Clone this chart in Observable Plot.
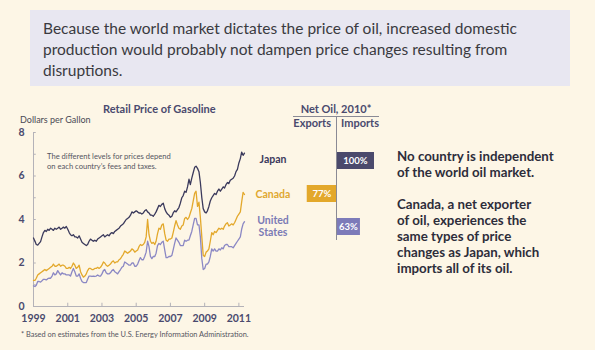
<!DOCTYPE html>
<html>
<head>
<meta charset="utf-8">
<script src="https://cdn.jsdelivr.net/npm/d3@7"></script>
<script src="https://cdn.jsdelivr.net/npm/@observablehq/plot@0.6"></script>
<style>
  html, body { margin: 0; padding: 0; background: #fdf6e6; }
  #page { position: relative; width: 595px; height: 350px; background: #fdf6e6; font-family: Lato, "Open Sans", sans-serif; overflow: hidden; }
  .abs { position: absolute; white-space: nowrap; }
  #box { left: 30px; top: 10px; width: 527px; height: 68px; padding: 8px 0 0 13px; background: #e8e7f1; color: #3a3a40; font-size: 15.5px; line-height: 21px; white-space: normal; }
  .ctitle { font-weight: bold; font-size: 11px; color: #4a4a6e; }
  .small { font-size: 9px; color: #4a4a55; }
  .note { font-size: 7.6px; color: #55555f; line-height: 9.5px; }
  .clabel { font-weight: bold; font-size: 10.5px; text-align: center; line-height: 12px; }
  #right { left: 397px; top: 148px; font-weight: bold; font-size: 13.3px; line-height: 16px; color: #2d2d3a; }
  #foot { left: 21px; top: 330px; font-size: 7.4px; color: #55555f; }
</style>
</head>
<body>
<div id="page">
  <div id="box" class="abs">Because the world market dictates the price of oil, increased domestic production would probably not dampen price changes resulting from disruptions.</div>

  <div class="abs ctitle" style="left:103px; top:102px;">Retail Price of Gasoline</div>
  <div class="abs small" style="left:20px; top:114px;">Dollars per Gallon</div>
  <div class="abs note" style="left:47px; top:152px;">The different levels for prices depend<br>on each country’s fees and taxes.</div>

  <div id="chart" class="abs" style="left:0px; top:120px;"></div>

  <div class="abs clabel" style="left:253px; top:153px; width:40px; color:#3b3a5c;">Japan</div>
  <div class="abs clabel" style="left:248px; top:188px; width:50px; color:#e0a830;">Canada</div>
  <div class="abs clabel" style="left:248px; top:214px; width:50px; color:#7b7bb5;">United<br>States</div>

  <div class="abs ctitle" style="left:293px; top:102px; width:86px; text-align:center; border-bottom:1px solid #8a8a95; padding-bottom:1px;">Net Oil, 2010*</div>
  <div class="abs ctitle" style="left:280px; top:116px; width:51px; text-align:right;">Exports</div>
  <div class="abs ctitle" style="left:341px; top:116px;">Imports</div>
  <div id="bars" class="abs" style="left:290px; top:100px;"></div>

  <div id="right" class="abs">No country is independent<br>of the world oil market.<br><br>Canada, a net exporter<br>of oil, experiences the<br>same types of price<br>changes as Japan, which<br>imports all of its oil.</div>

  <div id="foot" class="abs">* Based on estimates from the U.S. Energy Information Administration.</div>
</div>

<script>
// ---------- data ----------
const countries = ["Japan", "Canada", "United States"];
const countryColors = ["#3b3a5c", "#e3a82b", "#8b88c4"];

// Monthly retail gasoline prices (US$ per gallon), Jan 1999 – May 2011
const japan = [
  3.15, 3.0, 2.85, 2.82, 2.9, 2.98, 3.2, 3.4, 3.5, 3.45, 3.55, 3.5,
  3.6, 3.55, 3.5, 3.6, 3.55, 3.6, 3.65, 3.55, 3.6, 3.65, 3.6, 3.68,
  3.55, 3.4, 3.3, 3.25, 3.3, 3.2, 3.2, 3.15, 3.25, 3.1, 2.95, 2.9,
  2.85, 2.8, 2.85, 3.0, 3.1, 3.05, 3.0, 3.05, 3.0, 3.1, 3.15, 3.2,
  3.25, 3.3, 3.2, 3.25, 3.3, 3.25, 3.35, 3.4, 3.35, 3.45, 3.5, 3.55,
  3.6, 3.7, 3.75, 3.8, 3.9, 4.0, 4.05, 4.1, 4.2, 4.35, 4.3, 4.35,
  4.4, 4.35, 4.3, 4.3, 4.25, 4.3, 4.4, 4.45, 4.35, 4.3, 4.2, 4.2,
  4.15, 4.25, 4.35, 4.5, 4.65, 4.6, 4.7, 4.75, 4.5, 4.35, 4.25, 4.2,
  4.1, 4.15, 4.3, 4.4, 4.35, 4.45, 4.55, 4.75, 5.0, 5.1, 5.3, 5.25,
  5.5, 5.85, 5.6, 5.9, 6.15, 6.4, 6.45, 6.35, 6.2, 5.7, 5.0, 4.5,
  4.35, 4.3, 4.4, 4.6, 4.85, 5.0, 5.1, 5.2, 5.15, 5.3, 5.4, 5.3,
  5.4, 5.5, 5.45, 5.6, 5.7, 5.65, 5.8, 5.85, 5.9, 6.0, 6.2, 6.3,
  6.6, 6.8, 7.1, 6.95, 7.05
];
const canada = [
  1.2, 1.2, 1.3, 1.45, 1.5, 1.55, 1.6, 1.65, 1.7, 1.65, 1.7, 1.75,
  1.8, 1.85, 1.95, 1.85, 1.85, 1.9, 1.95, 1.85, 1.9, 1.9, 1.85, 1.75,
  1.75, 1.8, 1.75, 1.85, 2.0, 1.9, 1.75, 1.8, 1.9, 1.6, 1.45, 1.35,
  1.4, 1.5, 1.65, 1.75, 1.75, 1.7, 1.7, 1.75, 1.75, 1.8, 1.75, 1.8,
  1.9, 2.05, 2.0, 1.9, 1.85, 1.9, 1.95, 2.05, 2.1, 2.0, 2.05, 2.05,
  2.15, 2.2, 2.3, 2.4, 2.55, 2.5, 2.45, 2.5, 2.55, 2.65, 2.6, 2.5,
  2.55, 2.6, 2.75, 2.85, 2.8, 2.85, 2.95, 3.2, 4.0, 3.3, 3.0, 2.9,
  2.95, 2.85, 3.0, 3.35, 3.6, 3.55, 3.75, 3.8, 3.35, 3.05, 3.0, 3.1,
  3.1, 3.15, 3.4, 3.7, 3.95, 3.75, 3.6, 3.55, 3.7, 3.75, 4.05, 4.1,
  4.0, 4.1, 4.3, 4.5, 4.85, 5.2, 5.3, 4.6, 4.8, 4.1, 3.2, 2.35,
  2.3, 2.5, 2.55, 2.65, 3.0, 3.4, 3.3, 3.45, 3.4, 3.5, 3.6, 3.55,
  3.6, 3.55, 3.7, 3.8, 3.85, 3.7, 3.75, 3.8, 3.75, 3.85, 4.0, 4.15,
  4.25, 4.35, 4.8, 5.25, 5.15
];
const unitedStates = [
  0.95, 0.92, 0.98, 1.15, 1.15, 1.12, 1.18, 1.25, 1.25, 1.22, 1.28, 1.3,
  1.3, 1.4, 1.55, 1.45, 1.5, 1.65, 1.55, 1.45, 1.55, 1.5, 1.5, 1.45,
  1.45, 1.45, 1.4, 1.6, 1.75, 1.6, 1.4, 1.4, 1.5, 1.3, 1.15, 1.1,
  1.1, 1.1, 1.25, 1.4, 1.4, 1.38, 1.4, 1.38, 1.4, 1.45, 1.4, 1.4,
  1.5, 1.65, 1.7, 1.55, 1.5, 1.5, 1.55, 1.65, 1.7, 1.6, 1.55, 1.5,
  1.6, 1.7, 1.8, 1.85, 2.05, 2.0, 1.95, 1.9, 1.9, 2.0, 2.0, 1.85,
  1.85, 1.95, 2.1, 2.25, 2.15, 2.15, 2.3, 2.5, 3.0, 2.75, 2.3, 2.2,
  2.3, 2.3, 2.45, 2.8, 2.9, 2.85, 2.95, 3.0, 2.6, 2.25, 2.25, 2.3,
  2.3, 2.35, 2.6, 2.9, 3.15, 3.05, 2.95, 2.8, 2.8, 2.8, 3.05, 3.0,
  3.05, 3.05, 3.25, 3.45, 3.75, 4.05, 4.05, 3.75, 3.75, 3.2, 2.2, 1.7,
  1.75, 1.95, 1.95, 2.05, 2.3, 2.65, 2.55, 2.65, 2.55, 2.55, 2.65, 2.6,
  2.7, 2.65, 2.8, 2.85, 2.85, 2.75, 2.75, 2.75, 2.7, 2.8, 2.9, 3.0,
  3.1, 3.2, 3.55, 3.8, 3.9
];
const xTickYears = [1999, 2001, 2003, 2005, 2007, 2009, 2011];
const yTickLabels = [0, 2, 4, 6, 8];
const yMinorTicks = [1, 2, 3, 4, 5, 6, 7, 8];

// Net oil position, 2010 (share of consumption)
const netOilCountries = ["Japan", "Canada", "United States"];
const netOilPct = [100, 77, 63];
const netOilSide = ["Imports", "Exports", "Imports"];

// ---------- build ----------
const seriesValues = [japan, canada, unitedStates];
const monthDate = i => new Date(Date.UTC(1999, i, 1));
const rows = [];
seriesValues.forEach((vals, k) => vals.forEach((v, i) => rows.push({date: monthDate(i), value: v, country: countries[k]})));

const x0 = new Date(Date.UTC(1999, 0, 1));
const x1 = new Date(Date.UTC(2011, 4, 1));
const tickDates = xTickYears.map(y => new Date(Date.UTC(y, 0, 1)));
const axisColor = "#b4b2b8";
const labelColor = "#4a4a6e";

const chart = Plot.plot({
  width: 250, height: 206,
  marginLeft: 33, marginRight: 6, marginTop: 12, marginBottom: 20,
  style: {background: "transparent", fontFamily: "Lato, sans-serif", fontSize: "10.5px", fontWeight: "bold", color: labelColor, overflow: "visible"},
  x: {type: "utc", domain: [x0, x1]},
  y: {domain: [0, 8]},
  color: {domain: countries, range: countryColors},
  marks: [
    Plot.ruleY([0], {stroke: axisColor}),
    Plot.ruleX([x0], {stroke: axisColor}),
    Plot.ruleX(tickDates, {x: d => d, y1: 0, y2: 0.15, stroke: axisColor}),
    Plot.ruleY(yMinorTicks, {y: d => d, x1: x0, x2: new Date(Date.UTC(1999, 2, 1)), stroke: axisColor}),
    Plot.axisX(tickDates, {tickSize: 0, tickPadding: 8, tickFormat: "%Y", label: null, fill: labelColor}),
    Plot.axisY(yTickLabels, {tickSize: 0, tickPadding: 9, label: null, fill: labelColor}),
    Plot.line(rows, {x: "date", y: "value", z: "country", stroke: "country", strokeWidth: 1.3, curve: "linear"})
  ]
});
document.getElementById("chart").appendChild(chart);

const netRows = netOilCountries.map((c, i) => ({
  country: c, pct: netOilPct[i], signed: netOilSide[i] === "Exports" ? -netOilPct[i] : netOilPct[i]
}));
const barColors = ["#4b4a6c", "#e3a82b", "#7d7bb9"];

const bars = Plot.plot({
  width: 90, height: 140,
  marginLeft: 8, marginRight: 6, marginTop: 16, marginBottom: 0,
  style: {background: "transparent", fontFamily: "Lato, sans-serif", overflow: "visible"},
  x: {domain: [-100, 100], axis: null},
  y: {domain: netOilCountries, range: [35, 151], padding: 0.5, axis: null},
  color: {domain: netOilCountries, range: barColors},
  marks: [
    Plot.barX(netRows, {x: "signed", y: "country", fill: "country"}),
    Plot.ruleX([0], {stroke: "#8a8a95"}),
    Plot.text(netRows, {x: d => d.signed / 2, y: "country", text: d => d.pct + "%", fill: "white", fontWeight: "bold", fontSize: 9.5})
  ]
});
document.getElementById("bars").appendChild(bars);
</script>
</body>
</html>
